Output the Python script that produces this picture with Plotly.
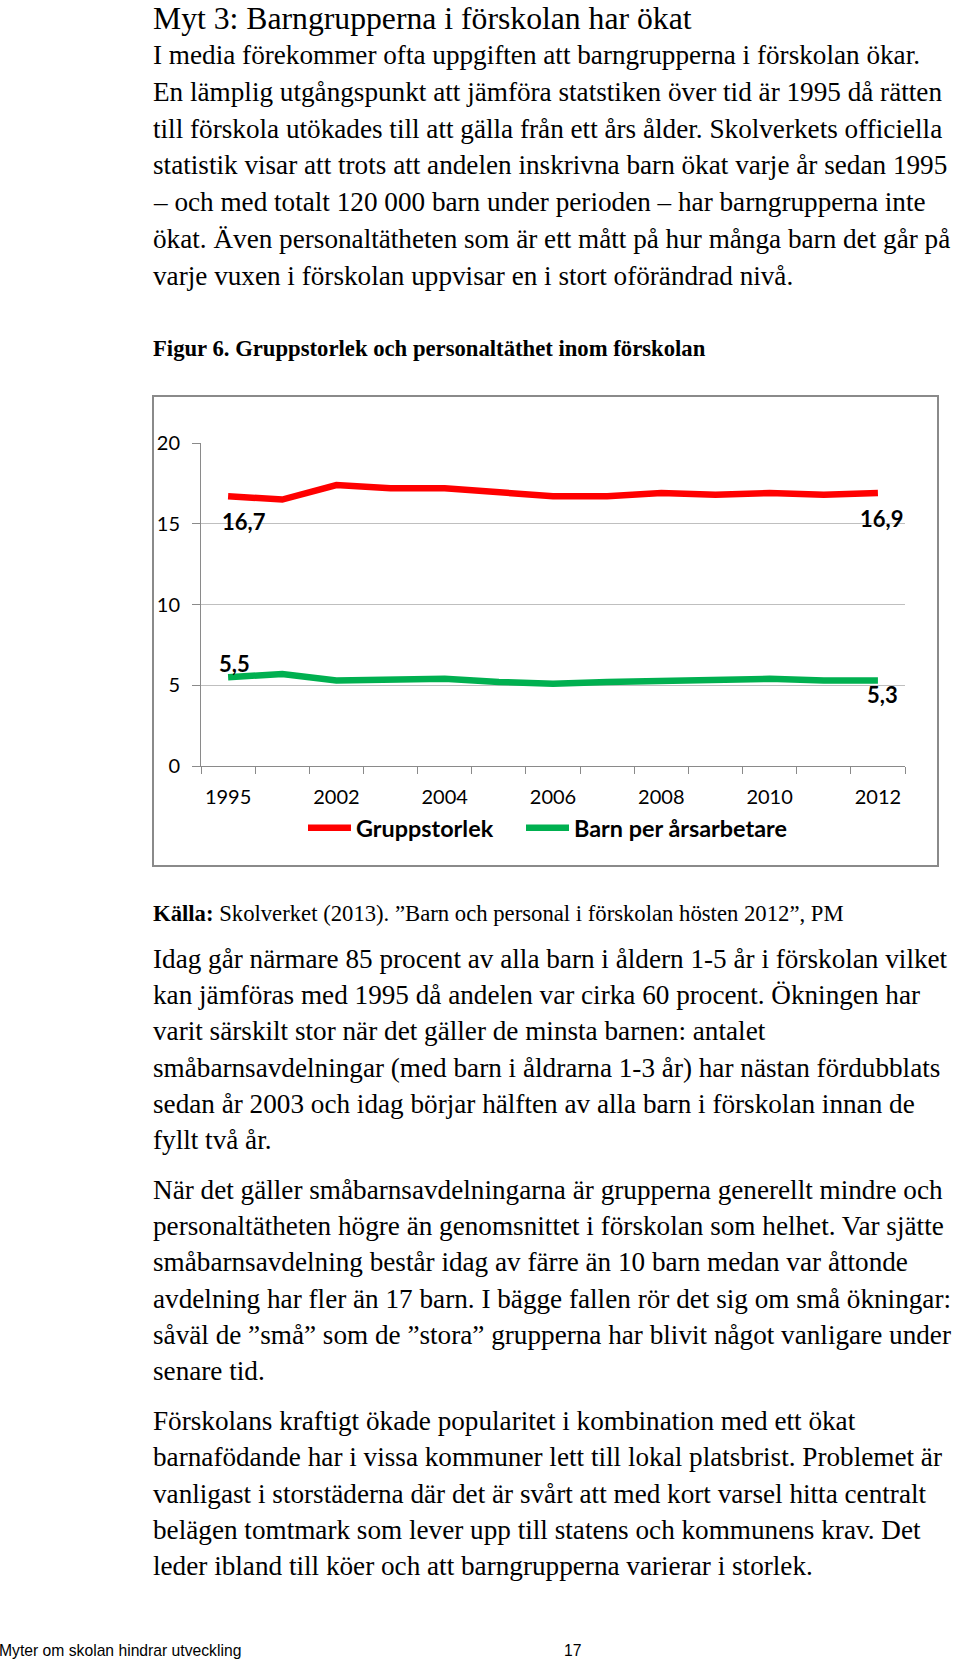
import plotly.graph_objects as go

# ---------------- data ----------------
years = ["1995", "2000", "2002", "2003", "2004", "2005", "2006",
         "2007", "2008", "2009", "2010", "2011", "2012"]
tick_labels = ["1995", "", "2002", "", "2004", "", "2006",
               "", "2008", "", "2010", "", "2012"]
gruppstorlek = [16.7, 16.5, 17.4, 17.2, 17.2, 17.0, 16.7,
                16.7, 16.9, 16.8, 16.9, 16.8, 16.9]
barn_per_arsarbetare = [5.5, 5.7, 5.3, 5.4, 5.4, 5.2, 5.1,
                        5.2, 5.3, 5.3, 5.4, 5.3, 5.3]
series_names = ["Gruppstorlek", "Barn per årsarbetare"]
series_colors = ["#ff0000", "#00b050"]

title_text = "Myt 3: Barngrupperna i förskolan har ökat"
para1 = [
    "I media förekommer ofta uppgiften att barngrupperna i förskolan ökar.",
    "En lämplig utgångspunkt att jämföra statstiken över tid är 1995 då rätten",
    "till förskola utökades till att gälla från ett års ålder. Skolverkets officiella",
    "statistik visar att trots att andelen inskrivna barn ökat varje år sedan 1995",
    "– och med totalt 120 000 barn under perioden – har barngrupperna inte",
    "ökat. Även personaltätheten som är ett mått på hur många barn det går på",
    "varje vuxen i förskolan uppvisar en i stort oförändrad nivå.",
]
figure_caption = "<b>Figur 6. Gruppstorlek och personaltäthet inom förskolan</b>"
source_text = "<b>Källa:</b> Skolverket (2013). ”Barn och personal i förskolan hösten 2012”, PM"
para2 = [
    "Idag går närmare 85 procent av alla barn i åldern 1-5 år i förskolan vilket",
    "kan jämföras med 1995 då andelen var cirka 60 procent. Ökningen har",
    "varit särskilt stor när det gäller de minsta barnen: antalet",
    "småbarnsavdelningar (med barn i åldrarna 1-3 år) har nästan fördubblats",
    "sedan år 2003 och idag börjar hälften av alla barn i förskolan innan de",
    "fyllt två år.",
]
para3 = [
    "När det gäller småbarnsavdelningarna är grupperna generellt mindre och",
    "personaltätheten högre än genomsnittet i förskolan som helhet. Var sjätte",
    "småbarnsavdelning består idag av färre än 10 barn medan var åttonde",
    "avdelning har fler än 17 barn. I bägge fallen rör det sig om små ökningar:",
    "såväl de ”små” som de ”stora” grupperna har blivit något vanligare under",
    "senare tid.",
]
para4 = [
    "Förskolans kraftigt ökade popularitet i kombination med ett ökat",
    "barnafödande har i vissa kommuner lett till lokal platsbrist. Problemet är",
    "vanligast i storstäderna där det är svårt att med kort varsel hitta centralt",
    "belägen tomtmark som lever upp till statens och kommunens krav. Det",
    "leder ibland till köer och att barngrupperna varierar i storlek.",
]
footer_left = "Myter om skolan hindrar utveckling"
footer_page = "17"

# ---------------- page geometry ----------------
W, H = 960, 1661
def px(x):
    return x / W
def py(y):
    return 1 - y / H

SERIF = "Liberation Serif, Times New Roman, serif"
SANS = "Liberation Sans, Arial, sans-serif"
CAL = "Lato, Carlito, Calibri, sans-serif"
LEFT = 154
BODY = 27.2

fig = go.Figure()
legend_ids = ["legend", "legend2"]
for name, vals, col, lg in zip(series_names, [gruppstorlek, barn_per_arsarbetare],
                               series_colors, legend_ids):
    fig.add_trace(go.Scatter(
        x=years, y=vals, name=name, mode="lines", legend=lg,
        line=dict(color=col, width=6.5),
    ))

annotations = []
def add_text(text, y, size, x=LEFT, font=SERIF, color="black"):
    annotations.append(dict(
        text=text, x=px(x), y=py(y), xref="paper", yref="paper",
        xanchor="left", yanchor="middle", showarrow=False, xshift=-3,
        font=dict(family=font, size=size, color=color),
    ))

add_text(title_text, 19, 31.7)
for i, line in enumerate(para1):
    add_text(line, 55 + i * 36.8, BODY)
add_text(figure_caption, 348, 22.7)
add_text(source_text, 913, 22.7)
for i, line in enumerate(para2):
    add_text(line, 959 + i * 36.2, BODY)
for i, line in enumerate(para3):
    add_text(line, 1190 + i * 36.2, BODY)
for i, line in enumerate(para4):
    add_text(line, 1421 + i * 36.3, BODY)
add_text(footer_left, 1650, 15.7, x=0, font=SANS)
add_text(footer_page, 1650, 15.7, x=565, font=SANS)

# data labels for first/last points (category axis -> index positions)
label_font = dict(family=CAL, size=22, color="black")
lab = lambda v: f"<b>{v:.1f}</b>".replace(".", ",")
first, last = 0, len(years) - 1
annotations += [
    dict(x=first, y=gruppstorlek[first], text=lab(gruppstorlek[first]), xref="x", yref="y",
         showarrow=False, xshift=16, yshift=-25, font=label_font),
    dict(x=last, y=gruppstorlek[last], text=lab(gruppstorlek[last]), xref="x", yref="y",
         showarrow=False, xshift=4, yshift=-25, font=label_font),
    dict(x=first, y=barn_per_arsarbetare[first], text=lab(barn_per_arsarbetare[first]), xref="x", yref="y",
         showarrow=False, xshift=6, yshift=14, font=label_font),
    dict(x=last, y=barn_per_arsarbetare[last], text=lab(barn_per_arsarbetare[last]), xref="x", yref="y",
         showarrow=False, xshift=5, yshift=-14, font=label_font),
]

legend_style = dict(orientation="h", y=py(828), xanchor="left", yanchor="middle",
                    font=dict(family=CAL, size=23.4, color="black", weight="bold"),
                    itemwidth=43, bgcolor="rgba(0,0,0,0)", borderwidth=0)

fig.update_layout(
    width=W, height=H, autosize=False,
    margin=dict(l=0, r=0, t=0, b=0, pad=0, autoexpand=False),
    paper_bgcolor="white", plot_bgcolor="white",
    showlegend=True,
    legend=dict(x=px(303), **legend_style),
    legend2=dict(x=px(521), **legend_style),
    annotations=annotations,
    shapes=[dict(type="rect", xref="paper", yref="paper",
                 x0=px(153), x1=px(938), y0=py(866), y1=py(396),
                 line=dict(color="#8a8a8a", width=2), fillcolor="rgba(0,0,0,0)",
                 layer="below")],
    xaxis=dict(domain=[px(201), px(905)], type="category",
               range=[-0.5, 12.5], tickmode="array", tickvals=years, ticktext=tick_labels,
               tickson="boundaries", ticks="outside", ticklen=7, tickcolor="#8a8a8a",
               tickangle=0, ticklabelstandoff=13,
               showline=True, linecolor="#8a8a8a", linewidth=1, showgrid=False,
               tickfont=dict(family=CAL, size=20, color="black"), fixedrange=True),
    yaxis=dict(domain=[py(766), py(443)], range=[0, 20], dtick=5, tick0=0,
               ticks="outside", ticklen=8, tickcolor="#8a8a8a",
               showline=True, linecolor="#8a8a8a", linewidth=1,
               showgrid=True, gridcolor="#bfbfbf", gridwidth=1, zeroline=False,
               tickfont=dict(family=CAL, size=20, color="black"),
               ticklabelstandoff=8, fixedrange=True),
)

fig.write_html("out.html", config={"displayModeBar": False},
               post_script="document.body.style.margin='0';document.body.style.overflow='hidden';")
